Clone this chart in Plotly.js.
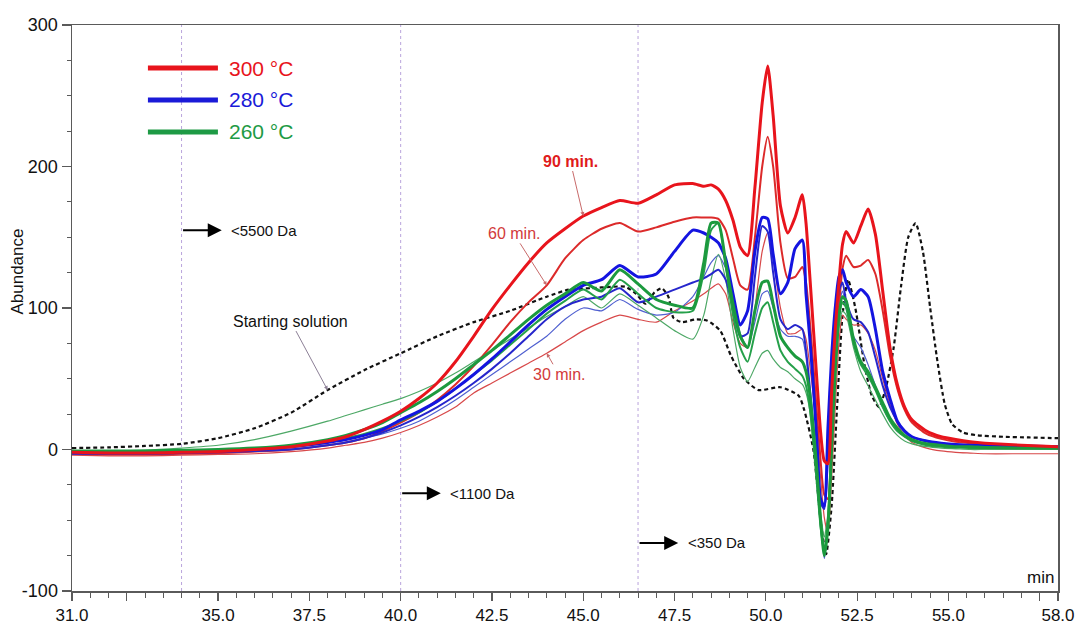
<!DOCTYPE html>
<html>
<head>
<meta charset="utf-8">
<script src="https://cdn.plot.ly/plotly-3.0.1.min.js"></script>
<style>
  html, body { margin: 0; padding: 0; background: #ffffff; }
  #chart { width: 1078px; height: 626px; }
</style>
</head>
<body>
<div id="chart"></div>
<script>
// Retention time grid (min) shared by the hydrolysate runs
const t = [31, 32, 33, 34, 35, 36, 37,
  38, 38.5, 39, 39.5, 40, 40.5, 41, 41.5, 42, 42.5, 43, 43.5, 44, 44.5, 45, 45.5, 46, 46.5, 47, 47.5, 48,
  48.3, 48.5, 48.7, 48.9, 49.1, 49.3, 49.5, 49.7, 49.9, 50.05,
  50.2, 50.4, 50.6, 50.8, 51.0,
  51.1, 51.2, 51.3, 51.4, 51.5, 51.6, 51.7, 51.8, 51.9, 52.0, 52.1, 52.2,
  52.4, 52.6, 52.8, 53.0, 53.2, 53.4, 53.6, 53.8, 54.0,
  54.4, 54.8, 55.2, 55.6, 56, 57, 58];

// 300 °C
const red90 = [-2, -2.5, -2.5, -2, -1.5, 0, 2,
  6, 9, 14, 20, 27, 36, 47, 62, 80, 99, 116, 132, 146, 156, 165, 171, 176, 174, 180, 187, 188,
  186, 187, 184, 176, 162, 143, 137, 185, 245, 271,
  236, 172, 153, 164, 180,
  160, 124, 86, 48, 12, -8, -10, 40, 85, 118, 145, 154,
  146, 158, 170, 152, 112, 72, 46, 30, 21,
  13, 9, 7, 5.5, 4.5, 3, 2];
const red60 = [-3, -3.5, -3.5, -3, -2.5, -1.5, 0,
  3, 5, 8, 13, 19, 26, 35, 46, 59, 74, 90, 104, 116, 135, 148, 156, 160, 154, 157, 161, 164,
  164, 164, 163, 155, 135, 116, 113, 150, 200, 221,
  200, 146, 121, 122, 129,
  118, 92, 60, 25, -8, -32, -35, 10, 60, 100, 128, 137,
  129, 130, 134, 124, 98, 66, 43, 28, 19,
  11, 7.5, 5.5, 4.5, 4, 2.5, 2];
const red30 = [-4, -4.5, -4.5, -4, -3.5, -3, -1.5,
  1, 3, 5, 8, 12, 17, 23, 30, 40, 47, 54, 61, 68, 76, 84, 90, 95, 92, 90, 98, 105,
  110, 114, 117, 110, 90, 75, 72, 100, 140, 153,
  135, 100, 82, 82, 85,
  78, 60, 38, 12, -20, -48, -60, -20, 30, 75, 95, 92,
  88, 88, 82, 70, 50, 32, 18, 10, 5,
  1, -1, -2, -2.5, -3, -3, -3];

// 280 °C
const blue90 = [-2, -2, -2, -1.5, -1, 0, 2,
  5, 7, 10, 14, 21, 27, 34, 43, 53, 64, 76, 88, 99, 108, 116, 120, 130, 122, 124, 140, 155,
  153, 150, 146, 135, 110, 88, 98, 140, 164, 163,
  138, 110, 118, 142, 148,
  110, 80, 45, 5, -35, -40, 15, 65, 100, 122, 127, 118,
  108, 113, 108, 85, 55, 36, 20, 13, 9,
  6, 4.5, 3.5, 3, 3, 2.5, 2];
const blue60 = [-3, -3, -3, -2.5, -2, -1, 0,
  3, 5, 8, 12, 17, 23, 30, 38, 47, 57, 68, 80, 92, 101, 106, 108, 114, 104, 108, 113, 118,
  121, 124, 127, 120, 100, 80, 82, 122, 158, 154,
  125, 92, 85, 88, 85,
  70, 45, 15, -15, -38, -42, -5, 40, 85, 112, 118, 105,
  92, 90, 83, 65, 45, 30, 20, 13, 9,
  6, 4, 3.5, 3, 3, 2.5, 2];
const blue30 = [-3, -3, -3, -3, -2.5, -1.5, 0,
  3, 5, 8, 11, 15, 20, 27, 35, 44, 53, 62, 71, 80, 92, 100, 98, 106, 99, 95, 97, 108,
  122, 132, 137, 128, 105, 82, 72, 90, 110, 112,
  100, 85, 80, 80, 78,
  65, 40, 10, -25, -55, -77, -55, 0, 60, 100, 112, 100,
  80, 72, 60, 45, 30, 20, 13, 9, 6,
  4, 3, 2.5, 2, 2, 1.5, 1.5];

// 260 °C
const green90 = [-1, -1, -1, -0.5, 0, 1, 3,
  7, 10, 14, 19, 26, 33, 41, 50, 60, 70, 81, 92, 102, 110, 118, 112, 127, 117, 106, 102, 100,
  132, 160, 160, 132, 103, 80, 72, 98, 118, 119,
  103, 80, 72, 66, 62,
  55, 40, 15, -15, -50, -75, -55, 0, 55, 95, 108, 105,
  78, 62, 55, 44, 33, 22, 15, 10, 7,
  4, 3, 2, 2, 1.5, 1, 1];
const green60 = [-1.5, -1.5, -1.5, -1, -0.5, 0.5, 2,
  5, 8, 11, 15, 20, 26, 34, 43, 53, 63, 74, 85, 96, 105, 113, 106, 120, 110, 100, 97, 98,
  125, 155, 160, 130, 95, 72, 62, 82, 100, 104,
  90, 70, 62, 57, 52,
  45, 30, 5, -25, -55, -72, -50, 5, 55, 92, 104, 100,
  75, 60, 52, 42, 30, 20, 13, 9, 6,
  3, 2, 1.5, 1, 1, 1, 0.5];
const green30 = [-1, -1, -0.5, 1, 3, 7, 13,
  20, 24, 28, 32, 36, 41, 47, 54, 62, 70, 78, 86, 94, 101, 108, 100, 110, 102, 93, 84, 78,
  95, 120, 138, 120, 85, 58, 48, 58, 68, 70,
  64, 58, 55, 50, 46,
  40, 28, 5, -20, -45, -62, -45, 0, 50, 85, 98, 95,
  72, 55, 45, 35, 25, 16, 10, 6, 4,
  2, 1, 0.5, 0, 0, 0, 0];

// Starting solution (own time grid)
const tStart = [31, 32, 33, 34, 35, 36, 37, 38, 39, 40,
  41, 42, 43, 44, 44.6, 45.2, 45.8, 46.15, 46.45, 46.7,
  46.95, 47.15, 47.33, 47.47, 47.7, 48.1, 48.4, 48.75, 49.05, 49.4,
  49.8, 50.4, 50.9, 51.05, 51.3, 51.5, 51.65, 51.8, 51.95, 52.1,
  52.25, 52.45, 52.7, 52.9, 53.1, 53.3, 53.5, 53.7, 53.9, 54.1,
  54.3, 54.5, 54.7, 54.9, 55.1, 55.4, 55.8, 56.5, 57.2, 58];
const startSol = [1, 1.5, 2.5, 4, 8, 15, 26, 42, 56, 68,
  80, 90, 98, 108, 113, 114, 115, 115, 110, 103,
  111, 114, 108, 93, 90, 92, 91, 84, 66, 50,
  42, 44, 38, 28, 0, -50, -74, -40, 30, 95,
  120, 100, 60, 38, 30, 45, 72, 115, 150, 160,
  140, 100, 62, 32, 18, 12, 10, 9, 8.5, 8];

// Legend and cut-off labels
const legendNames = ['300 °C', '280 °C', '260 °C'];
const legendColors = ['#e8141c', '#1a1ad8', '#1e9a45'];
const cutoffTimes = [34.0, 40.0, 46.5];
const cutoffLabels = ['<5500 Da', '<1100 Da', '<350 Da'];
const cutoffLevels = [155, -31, -66];
const xTickVals = [31, 32.5, 35, 37.5, 40, 42.5, 45, 47.5, 50, 52.5, 55, 57.5, 58];
const xTickText = ['31.0', '', '35.0', '37.5', '40.0', '42.5', '45.0', '47.5', '50.0', '52.5', '55.0', '', '58.0'];
const yTickVals = [-100, 0, 100, 200, 300];
const yTickText = ['-100', '0', '100', '200', '300'];

const SANS = '"Liberation Sans", Arial, sans-serif';

function run(x, y, color, width, dash) {
  return {
    x: x, y: y, type: 'scatter', mode: 'lines', showlegend: false, hoverinfo: 'skip',
    line: { color: color, width: width, shape: 'spline', smoothing: 0.6, dash: dash || 'solid' }
  };
}

const traces = [
  run(tStart, startSol, '#111111', 2.2, '4px,3px'),
  run(t, red30, '#d8494a', 1.2),
  run(t, blue30, '#5060d0', 1.2),
  run(t, green30, '#4da866', 1.2),
  run(t, red60, '#dc2a2a', 2),
  run(t, blue60, '#2626cc', 2),
  run(t, green60, '#25a04a', 2),
  run(t, blue90, '#1414e0', 3),
  run(t, green90, '#1c9a3e', 3),
  run(t, red90, '#e8141c', 3)
];

const shapes = [];
const annotations = [];

// cut-off markers: vertical guide, arrow and label
cutoffTimes.forEach(function (c, i) {
  shapes.push({ type: 'line', xref: 'x', yref: 'paper', x0: c, x1: c, y0: 0, y1: 1, layer: 'below',
    line: { color: '#b9a4dc', width: 1, dash: 'dot' } });
  annotations.push({ xref: 'x', yref: 'y', x: c + 1.1, y: cutoffLevels[i], axref: 'x', ayref: 'y',
    ax: c, ay: cutoffLevels[i], text: '', showarrow: true, arrowhead: 2, arrowsize: 1.4,
    arrowwidth: 2, arrowcolor: '#000000' });
  annotations.push({ xref: 'x', yref: 'y', x: c + 1.3, y: cutoffLevels[i], xanchor: 'left', yanchor: 'middle',
    text: cutoffLabels[i], showarrow: false, font: { family: SANS, size: 15, color: '#111111' } });
});

// legend built from coloured bars and labels
legendNames.forEach(function (n, i) {
  const yy = 0.924 - i * 0.0565;
  shapes.push({ type: 'line', xref: 'paper', yref: 'paper', x0: 0.077, x1: 0.148, y0: yy, y1: yy,
    line: { color: legendColors[i], width: 5 } });
  annotations.push({ xref: 'paper', yref: 'paper', x: 0.157, y: yy, xanchor: 'left', yanchor: 'middle',
    text: n, showarrow: false, font: { family: SANS, size: 21, color: legendColors[i] } });
});

// run-time call-outs
annotations.push({ x: t[21], y: red90[21], text: '<b>90 min.</b>', showarrow: true, ax: -13, ay: -55,
  arrowhead: 2, arrowsize: 0.8, arrowwidth: 1, arrowcolor: '#c86a6a',
  font: { family: SANS, size: 16, color: '#e01b1b' } });
annotations.push({ x: t[19], y: red60[19], text: '60 min.', showarrow: true, ax: -33, ay: -52,
  arrowhead: 2, arrowsize: 0.8, arrowwidth: 1, arrowcolor: '#c86a6a',
  font: { family: SANS, size: 16, color: '#d23a3a' } });
annotations.push({ x: t[19], y: red30[19], text: '30 min.', showarrow: true, ax: 12, ay: 21,
  arrowhead: 2, arrowsize: 0.8, arrowwidth: 1, arrowcolor: '#c86a6a',
  font: { family: SANS, size: 16, color: '#d23a3a' } });
annotations.push({ x: tStart[7], y: startSol[7], text: 'Starting solution', showarrow: true, ax: -37, ay: -69,
  arrowhead: 2, arrowsize: 0.8, arrowwidth: 1, arrowcolor: '#8c7f96',
  font: { family: SANS, size: 16, color: '#111111' } });

// axis captions
annotations.push({ xref: 'paper', yref: 'paper', x: -0.055, y: 0.564, textangle: -90,
  text: 'Abundance', showarrow: false, xanchor: 'center', yanchor: 'middle',
  font: { family: SANS, size: 17, color: '#111111' } });
annotations.push({ xref: 'paper', yref: 'paper', x: 0.998, y: 0.004, xanchor: 'right', yanchor: 'bottom',
  text: 'min', showarrow: false, font: { family: SANS, size: 17, color: '#111111' } });

const layout = {
  width: 1078, height: 626,
  margin: { l: 72, r: 20, t: 25, b: 35 },
  paper_bgcolor: '#ffffff', plot_bgcolor: '#ffffff',
  showlegend: false,
  font: { family: SANS, color: '#111111' },
  xaxis: {
    range: [31, 58], showgrid: false, zeroline: false,
    showline: true, mirror: true, linecolor: '#5a5a5a', linewidth: 1.5,
    ticks: 'outside', ticklen: 8, tickwidth: 1.2, tickcolor: '#5a5a5a',
    tickmode: 'array', tickvals: xTickVals, ticktext: xTickText,
    tickfont: { family: SANS, size: 17, color: '#111111' },
    minor: { tickmode: 'linear', tick0: 31, dtick: 0.5, ticklen: 5, tickwidth: 1, tickcolor: '#5a5a5a', showgrid: false }
  },
  yaxis: {
    range: [-100, 300], showgrid: false, zeroline: false,
    showline: true, mirror: true, linecolor: '#5a5a5a', linewidth: 1.5,
    ticks: 'outside', ticklen: 9, tickwidth: 1.2, tickcolor: '#5a5a5a',
    tickmode: 'array', tickvals: yTickVals, ticktext: yTickText,
    tickfont: { family: SANS, size: 18, color: '#111111' },
    minor: { tickmode: 'linear', tick0: 0, dtick: 25, ticklen: 4, tickwidth: 1, tickcolor: '#5a5a5a', showgrid: false }
  },
  shapes: shapes,
  annotations: annotations
};

Plotly.newPlot('chart', traces, layout, { staticPlot: true, displayModeBar: false });
</script>
</body>
</html>
